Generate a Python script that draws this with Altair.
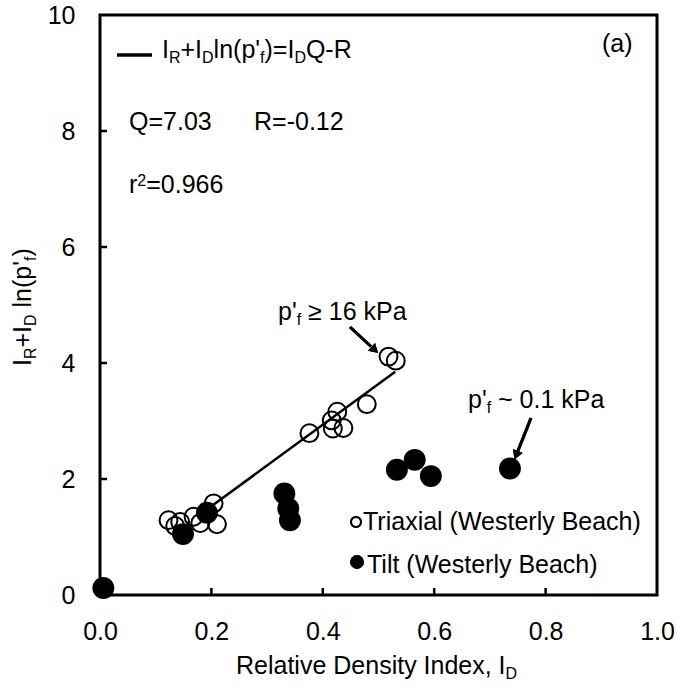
import altair as alt
import pandas as pd

# ---------------- data ----------------
tri_x = [0.123, 0.135, 0.144, 0.168, 0.180, 0.204, 0.210, 0.376, 0.416, 0.418, 0.426, 0.437, 0.479, 0.518, 0.531]
tri_y = [1.29, 1.19, 1.26, 1.35, 1.24, 1.58, 1.22, 2.79, 3.01, 2.87, 3.16, 2.88, 3.29, 4.11, 4.04]
tilt_x = [0.006, 0.149, 0.192, 0.331, 0.338, 0.341, 0.533, 0.565, 0.594, 0.736]
tilt_y = [0.12, 1.05, 1.42, 1.75, 1.49, 1.29, 2.16, 2.33, 2.05, 2.18]
fit_x = [0.19, 0.53]
fit_y = [1.46, 3.85]
x_ticks = [0.0, 0.2, 0.4, 0.6, 0.8, 1.0]
y_ticks = [0, 2, 4, 6, 8, 10]
series_names = ["Triaxial (Westerly Beach)", "Tilt (Westerly Beach)"]
q_text = "Q=7.03"
r_text = "R=-0.12"
r2_text = "=0.966"
panel_text = "(a)"

# ---------------- layout ----------------
FONT = "Liberation Sans"
F = 25
FS = 16
SUB = 5
SUP = -7
OX, OY = 100, 15
W, H = 557, 580

AW = {' ': 278, '(': 333, ')': 333, '+': 584, ',': 278, '-': 333, '.': 278, '=': 584, "'": 191,
      '~': 584, '≥': 549,
      'A': 667, 'B': 667, 'C': 722, 'D': 722, 'E': 667, 'F': 611, 'G': 778, 'H': 722, 'I': 278,
      'J': 500, 'K': 667, 'L': 556, 'M': 833, 'N': 722, 'O': 778, 'P': 667, 'Q': 778, 'R': 722,
      'S': 667, 'T': 611, 'U': 722, 'V': 667, 'W': 944, 'X': 667, 'Y': 667, 'Z': 611,
      'a': 556, 'b': 556, 'c': 500, 'd': 556, 'e': 556, 'f': 278, 'g': 556, 'h': 556, 'i': 222,
      'j': 222, 'k': 500, 'l': 222, 'm': 833, 'n': 556, 'o': 556, 'p': 556, 'q': 556, 'r': 333,
      's': 500, 't': 278, 'u': 556, 'v': 500, 'w': 722, 'x': 500, 'y': 500, 'z': 500}


def tw(s, size):
    return sum(AW.get(c, 556) for c in s) * size / 1000.0


def rich(pieces, x, y, angle=0):
    rows = []
    pos = 0.0
    for txt, kind in pieces:
        size = F if kind == 'n' else FS
        lead = len(txt) - len(txt.lstrip(" "))
        pos += tw(" " * lead, size)
        txt = txt.lstrip(" ")
        shift = {'n': 0, 'sub': SUB, 'sup': SUP}[kind]
        if angle == 0:
            px, py = x + pos, y + shift
        else:
            px, py = x + shift, y - pos
        rows.append(dict(px=px - OX, py=py - OY, text=txt, size=size, angle=angle))
        pos += tw(txt, size)
    return rows


rows = []
rows += rich([("I", 'n'), ("R", 'sub'), ("+I", 'n'), ("D", 'sub'), ("ln(p'", 'n'), ("f", 'sub'),
              (")=I", 'n'), ("D", 'sub'), ("Q-R", 'n')], 162, 58)
rows += rich([(q_text, 'n')], 129, 130)
rows += rich([(r_text, 'n')], 254, 130)
rows += rich([("r", 'n'), ("2", 'sup'), (r2_text, 'n')], 129, 193)
rows += rich([(panel_text, 'n')], 602, 52)
rows += rich([("p'", 'n'), ("f", 'sub'), (" ≥ 16 kPa", 'n')], 278, 320)
rows += rich([("p'", 'n'), ("f", 'sub'), (" ~ 0.1 kPa", 'n')], 468, 408)
rows += rich([(series_names[0], 'n')], 363, 530)
rows += rich([(series_names[1], 'n')], 367, 573)
rows += rich([("Relative Density Index, I", 'n'), ("D", 'sub')], 236, 674)
rows += rich([("I", 'n'), ("R", 'sub'), ("+I", 'n'), ("D", 'sub'), (" ln(p'", 'n'), ("f", 'sub'),
              (")", 'n')], 31, 366, angle=270)
txt_df = pd.DataFrame(rows)

tri = pd.DataFrame({"x": tri_x, "y": tri_y})
tilt = pd.DataFrame({"x": tilt_x, "y": tilt_y})
fit = pd.DataFrame({"x": fit_x, "y": fit_y})

xs = alt.Scale(domain=[0, 1], nice=False, zero=False)
ys = alt.Scale(domain=[0, 10], nice=False, zero=False)

xaxis = alt.Axis(values=x_ticks, format=".1f", domain=False, ticks=False, tickSize=0, grid=False,
                 labelFont=FONT, labelFontSize=F, labelColor="black", labelPadding=44,
                 labelBaseline="alphabetic", labelOverlap=False, labelFlush=False, title=None)
yaxis = alt.Axis(values=y_ticks, format="d", domain=False, ticks=False, tickSize=0, grid=False,
                 labelFont=FONT, labelFontSize=F, labelColor="black", labelPadding=25,
                 labelOverlap=False, labelFlush=False, title=None)

base_axes = alt.Chart(tri).mark_point(opacity=0).encode(
    x=alt.X("x:Q", scale=xs, axis=xaxis),
    y=alt.Y("y:Q", scale=ys, axis=yaxis),
)

fit_line = alt.Chart(fit).mark_line(color="black", strokeWidth=2.5).encode(
    x=alt.X("x:Q", scale=xs), y=alt.Y("y:Q", scale=ys))

tri_pts = alt.Chart(tri).mark_point(shape="circle", filled=False, size=320, strokeWidth=2,
                                    color="black", opacity=1).encode(
    x=alt.X("x:Q", scale=xs), y=alt.Y("y:Q", scale=ys))

tilt_pts = alt.Chart(tilt).mark_circle(size=480, color="black", opacity=1).encode(
    x=alt.X("x:Q", scale=xs), y=alt.Y("y:Q", scale=ys))

xt = pd.DataFrame({"v": x_ticks[1:-1]})
yt = pd.DataFrame({"v": y_ticks[1:-1]})
xtick_marks = alt.Chart(xt).mark_rule(color="black", strokeWidth=2.5).encode(
    x=alt.X("v:Q", scale=xs), y=alt.value(H), y2=alt.value(H - 7))
ytick_marks = alt.Chart(yt).mark_rule(color="black", strokeWidth=2.5).encode(
    y=alt.Y("v:Q", scale=ys), x=alt.value(0), x2=alt.value(7))

texts = alt.Chart(txt_df).mark_text(align="left", baseline="alphabetic", font=FONT,
                                    color="black").encode(
    x=alt.X("px:Q", scale=None, axis=None),
    y=alt.Y("py:Q", scale=None, axis=None),
    text="text:N",
    size=alt.Size("size:Q", scale=None, legend=None),
    angle=alt.Angle("angle:Q", scale=None, legend=None),
)

leg_line = alt.Chart(fit).mark_rule(color="black", strokeWidth=3).encode(
    x=alt.value(117 - OX), x2=alt.value(152 - OX), y=alt.value(55 - OY))
leg_open = alt.Chart(fit).mark_point(shape="circle", filled=False, size=100, strokeWidth=2,
                                     color="black", opacity=1).encode(
    x=alt.value(356 - OX), y=alt.value(522 - OY))
leg_fill = alt.Chart(fit).mark_circle(size=190, color="black", opacity=1).encode(
    x=alt.value(357 - OX), y=alt.value(562 - OY))

arrow1 = alt.Chart(fit).mark_rule(color="black", strokeWidth=3).encode(
    x=alt.value(350 - OX), y=alt.value(327 - OY), x2=alt.value(371 - OX), y2=alt.value(346.5 - OY))
head1 = alt.Chart(fit).mark_point(shape="triangle", filled=True, size=110, angle=132.8,
                                  color="black", opacity=1).encode(
    x=alt.value(373.7 - OX), y=alt.value(348.9 - OY))
arrow2 = alt.Chart(fit).mark_rule(color="black", strokeWidth=3).encode(
    x=alt.value(531 - OX), y=alt.value(418 - OY), x2=alt.value(517.6 - OX), y2=alt.value(451.7 - OY))
head2 = alt.Chart(fit).mark_point(shape="triangle", filled=True, size=110, angle=201.8,
                                  color="black", opacity=1).encode(
    x=alt.value(516.7 - OX), y=alt.value(453.8 - OY))

chart = alt.layer(
    base_axes, fit_line, tri_pts, tilt_pts, xtick_marks, ytick_marks,
    leg_line, leg_open, leg_fill, arrow1, head1, arrow2, head2, texts
).properties(
    width=W, height=H,
    padding={"left": OX, "top": OY, "right": 681 - OX - W, "bottom": 688 - OY - H},
    autosize=alt.AutoSizeParams(type="none"),
    background="white",
).configure_view(stroke="black", strokeWidth=3)

chart.save("out.html", embed_options={"renderer": "svg", "actions": False})
